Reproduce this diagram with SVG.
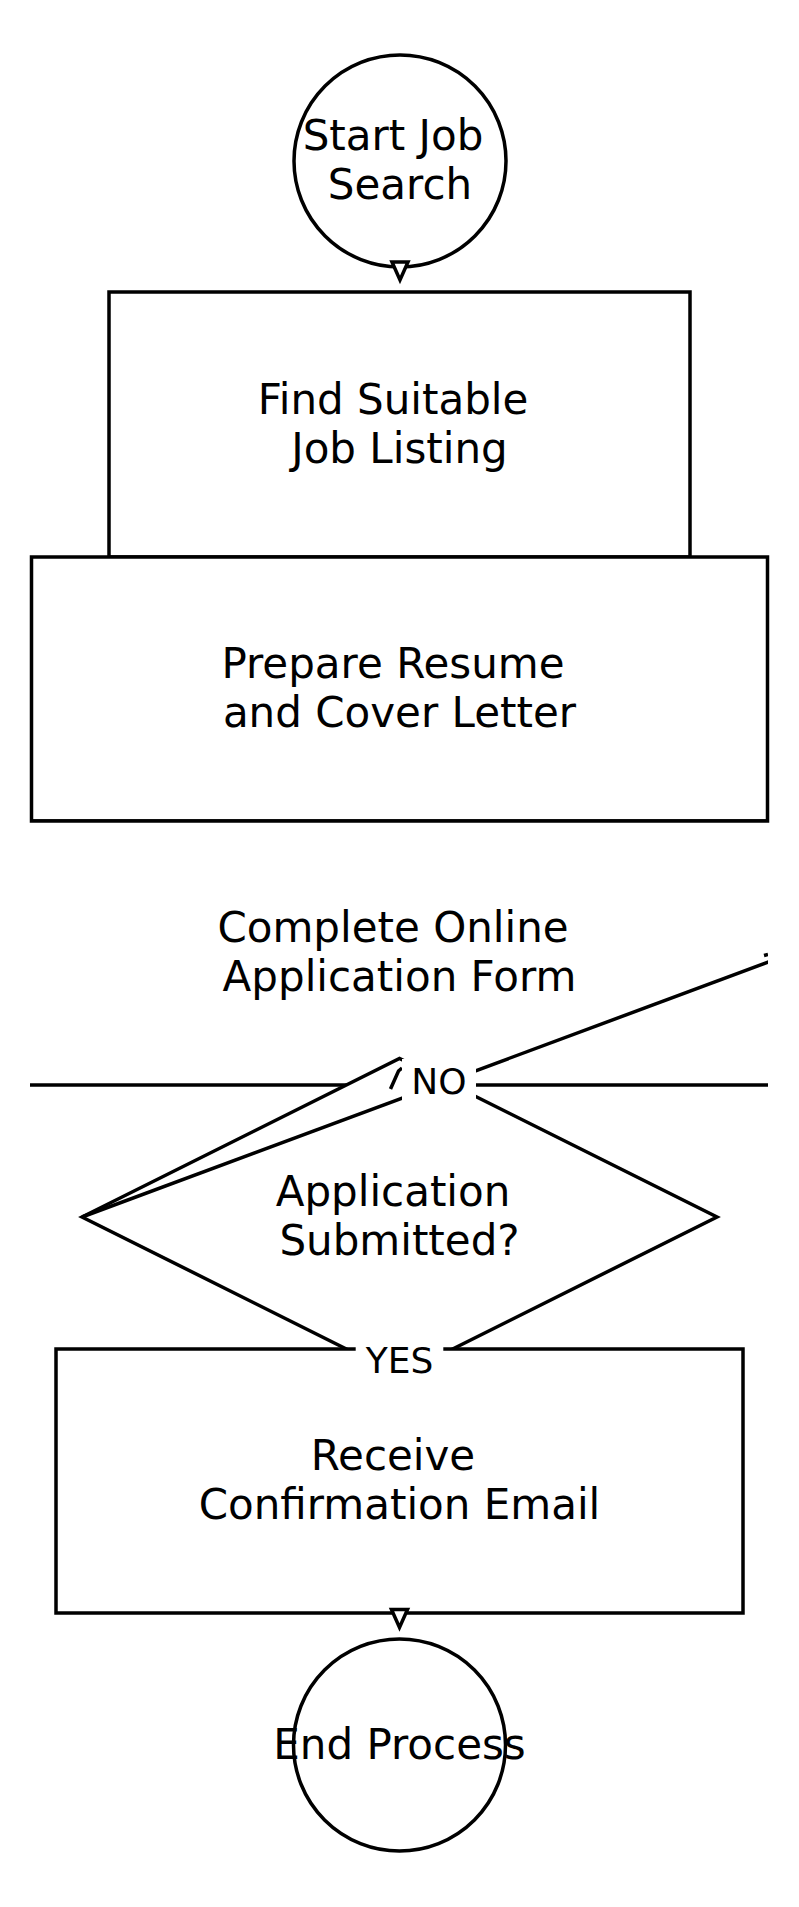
<svg xmlns="http://www.w3.org/2000/svg" width="799" height="1907" viewBox="0 0 799 1907">
<defs>
<style>
.shape { fill: #ffffff; stroke: #000000; stroke-width: 3.5; }
.t { font-family: "DejaVu Sans", "Liberation Sans", sans-serif; font-size: 42px; text-anchor: middle; fill: #000000; }
.el { font-family: "DejaVu Sans", "Liberation Sans", sans-serif; font-size: 36px; text-anchor: middle; fill: #000000; }
.edge { fill: none; stroke: #000000; stroke-width: 3.5; }
.head { fill: #ffffff; stroke: #000000; stroke-width: 3.5; }
.lbg { fill: #ffffff; stroke: none; }
</style>
<clipPath id="clip"><rect x="30" y="0" width="738" height="1907"/></clipPath>
<path id="ah" d="M-8,-18 L0,0 L8,-18 Z"/>
</defs>
<rect width="799" height="1907" fill="#ffffff"/>

<g id="start">
<circle class="shape" cx="400" cy="161" r="106"/>
<text class="t"><tspan x="393" y="150">Start Job</tspan><tspan x="400" y="199">Search</tspan></text>
</g>

<g id="find">
<rect class="shape" x="109" y="292" width="581" height="265"/>
<text class="t"><tspan x="393" y="413.5">Find Suitable</tspan><tspan x="399.5" y="462.5">Job Listing</tspan></text>
</g>

<g id="prepare">
<rect class="shape" x="31.5" y="557" width="736" height="264"/>
<text class="t"><tspan x="393" y="678">Prepare Resume</tspan><tspan x="399.5" y="727">and Cover Letter</tspan></text>
</g>

<g id="complete" clip-path="url(#clip)">
<rect class="shape" x="10" y="821" width="779" height="264"/>
<text class="t"><tspan x="393" y="942">Complete Online</tspan><tspan x="399.5" y="991">Application Form</tspan></text>
</g>

<g id="decision">
<polygon class="shape" points="82,1217 399.5,1058.5 717,1217 399.5,1375.5"/>
<text class="t"><tspan x="393" y="1206">Application</tspan><tspan x="399.5" y="1255">Submitted?</tspan></text>
</g>

<g id="receive">
<rect class="shape" x="56" y="1349" width="687" height="264"/>
<text class="t"><tspan x="393" y="1470">Receive</tspan><tspan x="399.5" y="1519">Confirmation Email</tspan></text>
</g>

<g id="end">
<circle class="shape" cx="399.5" cy="1745" r="106"/>
<text class="t" x="399.5" y="1758.5">End Process</text>
</g>

<g id="connectors">
<use href="#ah" class="head" transform="translate(400,280)"/>
<use href="#ah" class="head" transform="translate(399.5,1627.5)"/>
<path class="edge" d="M390.5,1089 L398.5,1071 L402,1068"/>
<g clip-path="url(#clip)">
<path class="edge" d="M82,1217 L790,954"/>
<path class="edge" d="M764,955.5 L768,954.5"/>
</g>
<rect class="lbg" x="402" y="1059" width="74" height="44"/>
<text class="el" x="439" y="1094">NO</text>
<rect class="lbg" x="355.7" y="1338" width="87.6" height="44"/>
<text class="el" x="399.5" y="1373">YES</text>
</g>
</svg>
